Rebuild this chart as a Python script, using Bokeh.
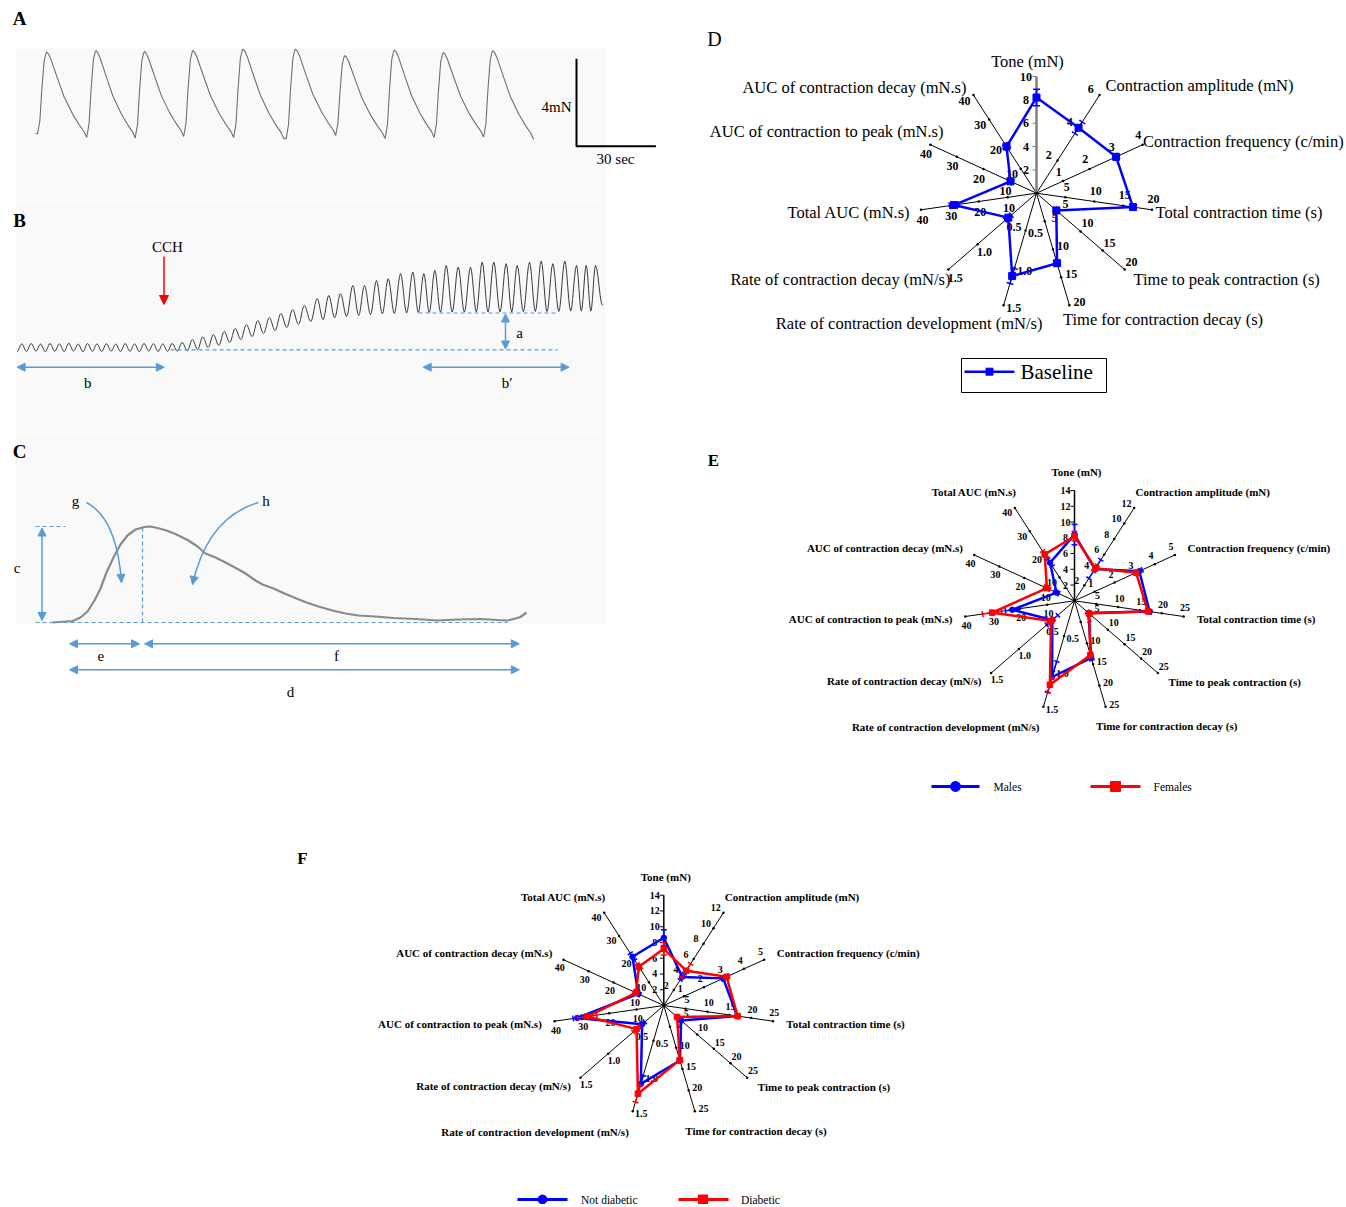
import math
from bokeh.plotting import figure
from bokeh.models import Range1d, Arrow, NormalHead
from bokeh.layouts import column, row
from bokeh.embed import file_html
from bokeh.resources import INLINE
from bokeh.core.properties import value

SERIF = value("Liberation Serif")
ANN = "#5b9bd5"
BG = "#f9f9f9"
BLUE = "#0000ff"
RED = "#ff0000"

# ===================== DATA =====================
# Panel A: spontaneous contractions (time s, force mN)
A_peak_t = [4.27, 22.86, 41.18, 59.50, 78.39, 98.22, 116.9, 135.6, 154.1, 172.8]
A_peak_mN = [3.74, 3.81, 3.77, 3.81, 3.88, 3.88, 3.58, 3.84, 3.72, 3.81]
A_trough_mN = [0.0, -0.17, -0.19, -0.12, -0.17, -0.22, -0.08, -0.22, -0.17, -0.15, -0.26]
A_rise_s = 3.5
A_decay_s = 15.4
A_rise_u = [0.0, 0.25, 0.46, 0.71, 0.9, 1.0]
A_rise_frac = [0.0, 0.16, 0.54, 0.89, 0.98, 1.0]
A_decay_u = [0.0, 0.04, 0.1, 0.27, 0.43, 0.64, 0.81, 0.93, 1.0]
A_decay_frac = [1.0, 0.98, 0.92, 0.69, 0.48, 0.28, 0.15, 0.07, 0.0]

# Panel B: response to carbachol (time s, force mN)
B_peak_t = [6.3, 15.7, 25.1, 34.5, 43.9, 53.3, 62.7, 72.1, 81.5, 90.9, 100.3, 109.7, 119.1, 128.5, 137.9, 147.3, 156.7,
            166.7, 176.9, 187.3, 197.9, 208.7, 219.7, 230.9, 242.3, 253.8, 265.4, 277.1, 288.8,
            301.7, 313.3, 325.0, 337.3, 349.0, 361.0, 372.7, 385.0, 397.3, 408.3, 419.3, 430.7, 442.7,
            455.0, 466.7, 478.3, 490.7, 501.7, 514.0, 525.7, 537.3, 549.3, 561.0, 570.7, 580.0]
B_peak_mN = [0.38, 0.40, 0.37, 0.40, 0.38, 0.41, 0.37, 0.40, 0.38, 0.39, 0.37, 0.40, 0.38, 0.40, 0.39, 0.38, 0.40,
             0.45, 0.60, 0.73, 0.85, 1.00, 1.15, 1.35, 1.55, 1.70, 1.90, 2.10, 2.30,
             2.64, 2.80, 2.89, 3.30, 3.30, 3.55, 3.64, 3.89, 3.97, 3.89, 4.05, 4.30, 4.22,
             4.22, 4.47, 4.47, 4.39, 4.30, 4.47, 4.52, 4.39, 4.52, 4.30, 4.30, 4.30]
B_trough_mN = [0.0,
               0.0, 0.02, -0.01, 0.01, 0.0, 0.02, -0.01, 0.01, 0.0, 0.02, 0.0, 0.01, -0.01, 0.02, 0.0, 0.01, 0.02,
               0.03, 0.10, 0.20, 0.30, 0.45, 0.60, 0.75, 0.90, 1.05, 1.20, 1.35, 1.50,
               1.60, 1.68, 1.75, 1.80, 1.85, 1.88, 1.90, 1.93, 1.95, 1.95, 1.96, 1.97, 1.97,
               1.98, 1.98, 1.98, 1.97, 1.99, 2.00, 2.00, 2.00, 2.02, 2.02, 2.02, 2.30]
B_end_t = 587.0
B_cch_t = 148.5

# Panel C: a single contraction (time s, force mN)
C_t = [0.0, 0.8, 1.12, 1.4, 1.68, 1.92, 2.16, 2.44, 2.72, 3.0, 3.32, 3.68, 3.92, 4.2, 4.56, 4.92,
       5.44, 5.8, 6.12, 6.52, 7.0, 7.44, 7.72, 8.12, 8.4, 8.84, 9.28, 9.76, 10.16, 10.64, 11.2,
       11.72, 12.24, 12.92, 13.64, 14.52, 15.4, 16.24, 17.12, 17.8, 18.2, 18.52, 18.72, 18.96]
C_mN = [0.0, 0.06, 0.2, 0.44, 0.88, 1.36, 2.0, 2.6, 3.12, 3.48, 3.72, 3.82, 3.84, 3.78, 3.68, 3.54,
        3.28, 3.04, 2.76, 2.6, 2.36, 2.12, 1.96, 1.68, 1.52, 1.36, 1.16, 0.96, 0.8, 0.64, 0.48,
        0.36, 0.28, 0.24, 0.18, 0.14, 0.08, 0.12, 0.14, 0.1, 0.08, 0.16, 0.22, 0.4]

# Panel D radar
D_axes = ["Tone (mN)", "Contraction amplitude (mN)", "Contraction frequency (c/min)",
          "Total contraction time (s)", "Time to peak contraction (s)", "Time for contraction decay (s)",
          "Rate of contraction development (mN/s)", "Rate of contraction decay (mN/s)",
          "Total AUC (mN.s)", "AUC of contraction to peak (mN.s)", "AUC of contraction decay (mN.s)"]
D_max = [10, 6, 4, 20, 20, 20, 1.5, 1.5, 40, 40, 40]
D_ticks = [[2, 4, 6, 8, 10], [2, 4, 6], [1, 2, 3, 4], [5, 10, 15, 20], [5, 10, 15, 20], [5, 10, 15, 20],
           [0.5, 1.0, 1.5], [0.5, 1.0, 1.5], [10, 20, 30, 40], [10, 20, 30, 40], [10, 20, 30, 40]]
D_baseline = [8.2, 4.0, 3.0, 16.7, 4.5, 12.5, 1.11, 0.48, 28.6, 9.8, 19.0]
D_baseline_err = [0.7, 0.35, 0.08, 0.4, 0.3, 0.4, 0.1, 0.05, 1.5, 0.8, 1.0]

# Panels E and F radar
EF_axes = ["Tone (mN)", "Contraction amplitude (mN)", "Contraction frequency (c/min)",
           "Total contraction time (s)", "Time to peak contraction (s)", "Time for contraction decay (s)",
           "Rate of contraction development (mN/s)", "Rate of contraction decay (mN/s)",
           "AUC of contraction to peak (mN.s)", "AUC of contraction decay (mN.s)", "Total AUC (mN.s)"]
EF_max = [14, 12, 5, 25, 25, 25, 1.5, 1.5, 40, 40, 40]
EF_ticks = [[2, 4, 6, 8, 10, 12, 14], [2, 4, 6, 8, 10, 12], [1, 2, 3, 4, 5], [5, 10, 15, 20, 25],
            [5, 10, 15, 20, 25], [5, 10, 15, 20, 25], [0.5, 1.0, 1.5], [0.5, 1.0, 1.5],
            [10, 20, 30, 40], [10, 20, 30, 40], [10, 20, 30, 40]]
E_males = [8.4, 4.1, 3.23, 17.2, 4.2, 13.5, 1.08, 0.40, 22.8, 7.2, 16.4]
E_males_err = [1.3, 1.2, 0.15, 0.4, 0.3, 0.5, 0.22, 0.1, 2.5, 1.0, 1.5]
E_females = [8.2, 4.2, 3.07, 16.8, 4.4, 12.8, 1.19, 0.42, 30.2, 11.0, 20.0]
E_females_err = [0.6, 0.4, 0.1, 0.4, 0.4, 0.5, 0.1, 0.05, 3.5, 1.2, 1.5]
F_notdiab = [8.6, 3.7, 2.96, 16.8, 5.2, 13.0, 1.11, 0.39, 31.7, 10.2, 21.0]
F_notdiab_err = [1.0, 0.4, 0.1, 0.3, 0.3, 0.4, 0.12, 0.05, 1.5, 0.8, 1.5]
F_diab = [7.2, 4.5, 3.13, 16.9, 4.0, 12.9, 1.25, 0.49, 28.1, 11.1, 16.7]
F_diab_err = [0.8, 0.9, 0.12, 0.4, 0.4, 0.4, 0.12, 0.06, 3.5, 1.0, 1.2]


# ===================== HELPERS =====================
def blank(w, h, xr, yr):
    p = figure(width=w, height=h, x_range=Range1d(*xr), y_range=Range1d(*yr),
               output_backend="svg", toolbar_location=None,
               x_axis_location=None, y_axis_location=None,
               min_border=0, outline_line_color=None,
               background_fill_color="white", border_fill_color="white")
    p.xgrid.visible = False
    p.ygrid.visible = False
    return p


def txt(p, x, y, s, size, align="center", bold=False, color="black"):
    p.text(x=[x], y=[y], text=[s], text_font=SERIF, text_font_size=f"{size}px",
           text_align=align, text_baseline="middle", text_color=color,
           text_font_style="bold" if bold else "normal")


def head(color, size=8):
    return NormalHead(size=size, fill_color=color, line_color=color, line_width=1)


def darrow(p, x0, y0, x1, y1, color=ANN, size=8, both=True, lw=1.5):
    p.add_layout(Arrow(start=head(color, size) if both else None, end=head(color, size),
                       x_start=x0, y_start=y0, x_end=x1, y_end=y1,
                       line_color=color, line_width=lw))


LEFT_W, RIGHT_W = 690, 656

# ===================== PANEL A =====================
def a_t(x):
    return (x - 35.0) / 2.647


def a_f(y):
    return (133.3 - y) / 21.85


pA = blank(LEFT_W, 200, (a_t(0), a_t(LEFT_W)), (a_f(200), a_f(0)))
pA.quad(left=[a_t(15)], right=[a_t(605)], bottom=[a_f(200)], top=[a_f(48.3)],
        fill_color=BG, line_color=None)
tA, fA = [0.0], [A_trough_mN[0]]
for i, (tp, fp) in enumerate(zip(A_peak_t, A_peak_mN)):
    lo0, lo1 = A_trough_mN[i], A_trough_mN[i + 1]
    ts = tp - A_rise_s
    for u, fr in zip(A_rise_u, A_rise_frac):
        tA.append(ts + u * A_rise_s)
        fA.append(lo0 + fr * (fp - lo0))
    if i + 1 < len(A_peak_t):
        td = min(A_decay_s, A_peak_t[i + 1] - A_rise_s - tp)
    else:
        td = A_decay_s
    for u, fr in zip(A_decay_u[1:], A_decay_frac[1:]):
        tA.append(tp + u * td)
        fA.append(lo1 + fr * (fp - lo1))
pA.line(tA, fA, line_color="#707070", line_width=1.1)
# scale bar 4 mN / 30 s
sb_t, sb_f = a_t(576), a_f(145.7)
pA.line([sb_t, sb_t, sb_t + 30], [sb_f + 4, sb_f, sb_f], line_color="black", line_width=2)
txt(pA, a_t(571), a_f(106), "4mN", 15, align="right")
txt(pA, a_t(615), a_f(158), "30 sec", 15)
txt(pA, a_t(19), a_f(18), "A", 19, bold=True)

# ===================== PANEL B =====================
def b_t(x):
    return x - 15.0


def b_f(y):
    return (351.0 - y) / 20.0


pB = blank(LEFT_W, 232, (b_t(0), b_t(LEFT_W)), (b_f(432), b_f(200)))
pB.quad(left=[b_t(15)], right=[b_t(605)], bottom=[b_f(432)], top=[b_f(200)],
        fill_color=BG, line_color=None)
ext_t = [B_peak_t[0] - (B_peak_t[1] - B_peak_t[0]) / 2]
ext_f = [B_trough_mN[0]]
for i, tp in enumerate(B_peak_t):
    ext_t.append(tp)
    ext_f.append(B_peak_mN[i])
    tn = (tp + B_peak_t[i + 1]) / 2 if i + 1 < len(B_peak_t) else B_end_t
    ext_t.append(tn)
    ext_f.append(B_trough_mN[i + 1])
tB, fB = [], []
NS = 6
for j in range(len(ext_t) - 1):
    for s in range(NS):
        u = s / NS
        w = (1 - math.cos(math.pi * u)) / 2
        tB.append(ext_t[j] + (ext_t[j + 1] - ext_t[j]) * u)
        fB.append(ext_f[j] + (ext_f[j + 1] - ext_f[j]) * w)
tB.append(ext_t[-1])
fB.append(ext_f[-1])
pB.line(tB, fB, line_color="#3c3c3c", line_width=1.0)
# dashed reference lines
pB.line([b_t(170), b_t(557)], [b_f(349.3)] * 2, line_color=ANN, line_width=1.2, line_dash="4 3")
pB.line([b_t(418), b_t(557)], [b_f(312.5)] * 2, line_color=ANN, line_width=1.2, line_dash="4 3")
darrow(pB, b_t(505), b_f(313.5), b_t(505), b_f(348.5))
darrow(pB, b_t(16.6), b_f(366.7), b_t(163.8), b_f(366.7))
darrow(pB, b_t(422.7), b_f(366.7), b_t(568.6), b_f(366.7))
pB.add_layout(Arrow(end=head(RED, 9), x_start=B_cch_t, y_start=b_f(256), x_end=B_cch_t, y_end=b_f(304),
                    line_color=RED, line_width=1.5))
txt(pB, b_t(167), b_f(246), "CCH", 15)
txt(pB, b_t(519), b_f(332), "a", 15)
txt(pB, b_t(87.3), b_f(382), "b", 15)
txt(pB, b_t(506.6), b_f(382), "b\u2032", 15)
txt(pB, b_t(19), b_f(220), "B", 19, bold=True)

# ===================== PANEL C =====================
def c_t(x):
    return (x - 52.0) * 0.04


def c_f(y):
    return (622.0 - y) * 0.04


pC = blank(LEFT_W, 280, (c_t(0), c_t(LEFT_W)), (c_f(712), c_f(432)))
pC.quad(left=[c_t(15)], right=[c_t(605)], bottom=[c_f(623.3)], top=[c_f(432)],
        fill_color=BG, line_color=None)
pC.line(C_t, C_mN, line_color="#8a8a8a", line_width=2.2)
pC.line([c_t(35), c_t(65)], [c_f(526)] * 2, line_color=ANN, line_width=1.2, line_dash="4 3")
pC.line([c_t(142)] * 2, [c_f(622), c_f(526)], line_color=ANN, line_width=1.2, line_dash="4 3")
pC.line([c_t(35), c_t(507)], [c_f(622)] * 2, line_color=ANN, line_width=1.2, line_dash="4 3")
darrow(pC, c_t(41.5), c_f(620), c_t(41.5), c_f(527.5))
darrow(pC, c_t(69), c_f(643.3), c_t(139), c_f(643.3))
darrow(pC, c_t(144), c_f(643.3), c_t(518.8), c_f(643.3))
darrow(pC, c_t(69), c_f(669.3), c_t(518.8), c_f(669.3))
for (sx, sy), (qx, qy), (ex, ey) in [((86, 502), (116.5, 518), (121, 582)),
                                     ((258, 502), (207, 517), (192, 584))]:
    pC.quadratic(x0=[c_t(sx)], y0=[c_f(sy)], x1=[c_t(ex)], y1=[c_f(ey)],
                 cx=[c_t(qx)], cy=[c_f(qy)], line_color=ANN, line_width=1.5)
    vx, vy = ex - qx, ey - qy
    L = math.hypot(vx, vy)
    px0, py0 = ex - 4 * vx / L, ey - 4 * vy / L
    pC.add_layout(Arrow(end=head(ANN, 8), x_start=c_t(px0), y_start=c_f(py0),
                        x_end=c_t(ex), y_end=c_f(ey), line_color=ANN, line_width=1.5))
txt(pC, c_t(16.6), c_f(567), "c", 15)
txt(pC, c_t(75), c_f(500), "g", 15)
txt(pC, c_t(265.5), c_f(500), "h", 15)
txt(pC, c_t(100.4), c_f(655), "e", 15)
txt(pC, c_t(336), c_f(655), "f", 15)
txt(pC, c_t(290), c_f(691), "d", 15)
txt(pC, c_t(19), c_f(451), "C", 19, bold=True)


# ===================== RADAR =====================
def radar(p, R, names, maxes, ticks, title_pos, title_fs, title_bold, tick_fs, tick_off,
          tone_color, tone_w, series, cap):
    n = len(names)
    th = [2 * math.pi * k / n for k in range(n)]
    ux = [math.sin(a) for a in th]
    uy = [math.cos(a) for a in th]
    nx = [-math.cos(a) for a in th]
    ny = [math.sin(a) for a in th]
    p.segment(x0=[0] * (n - 1), y0=[0] * (n - 1), x1=ux[1:], y1=uy[1:],
              line_color="black", line_width=1)
    p.segment(x0=[0], y0=[0], x1=[0], y1=[1], line_color=tone_color, line_width=tone_w)
    tx0, ty0, tx1, ty1 = [], [], [], []
    dxs, dys = [], []
    lxs, lys, lts = [], [], []
    for k in range(n):
        for t in ticks[k]:
            r = t / maxes[k]
            if k == 0:
                tx0.append(-4.0 / R); ty0.append(r); tx1.append(0); ty1.append(r)
            else:
                dxs.append(r * ux[k]); dys.append(r * uy[k])
            lxs.append(r * ux[k] + tick_off / R * nx[k])
            lys.append(r * uy[k] + tick_off / R * ny[k])
            lts.append(f"{t:.1f}" if maxes[k] < 2 else str(int(t)))
    p.segment(x0=tx0, y0=ty0, x1=tx1, y1=ty1, line_color=tone_color, line_width=1)
    p.scatter(dxs, dys, marker="circle", size=2.5, fill_color="black", line_color=None)
    p.scatter([0], [0], marker="circle", size=3, fill_color="black", line_color=None)
    p.text(x=lxs, y=lys, text=lts, text_font=SERIF, text_font_size=f"{tick_fs}px",
           text_font_style="bold", text_align="center", text_baseline="middle")
    for k in range(n):
        dx, dy, al = title_pos[k]
        p.text(x=[dx / R], y=[-dy / R], text=[names[k]], text_font=SERIF,
               text_font_size=f"{title_fs}px", text_font_style="bold" if title_bold else "normal",
               text_align=al, text_baseline="middle")
    for vals, errs, color, marker, msize, lw in series:
        rs = [v / m for v, m in zip(vals, maxes)]
        xs = [r * a for r, a in zip(rs, ux)]
        ys = [r * b for r, b in zip(rs, uy)]
        ex0, ey0, ex1, ey1 = [], [], [], []
        for k in range(n):
            lo = max(vals[k] - errs[k], 0) / maxes[k]
            hi = (vals[k] + errs[k]) / maxes[k]
            ex0.append(lo * ux[k]); ey0.append(lo * uy[k]); ex1.append(hi * ux[k]); ey1.append(hi * uy[k])
            for rr in (lo, hi):
                cxp, cyp = rr * ux[k], rr * uy[k]
                h = cap / 2 / R
                ex0.append(cxp - h * nx[k]); ey0.append(cyp - h * ny[k])
                ex1.append(cxp + h * nx[k]); ey1.append(cyp + h * ny[k])
        p.segment(x0=ex0, y0=ey0, x1=ex1, y1=ey1, line_color=color, line_width=1.5)
        p.line(xs + xs[:1], ys + ys[:1], line_color=color, line_width=lw)
        p.scatter(xs, ys, marker=marker, size=msize, fill_color=color, line_color=color)


def radar_fig(w, h, cx, cy, R):
    return blank(w, h, (-cx / R, (w - cx) / R), (-(h - cy) / R, cy / R))


def legend_item(p, R, x0, x1, xm, y, xt, color, marker, msize, lw, label, fs):
    p.line([x0 / R, x1 / R], [-y / R] * 2, line_color=color, line_width=lw)
    p.scatter([xm / R], [-y / R], marker=marker, size=msize, fill_color=color, line_color=color)
    p.text(x=[xt / R], y=[-y / R], text=[label], text_font=SERIF, text_font_size=f"{fs}px",
           text_align="left", text_baseline="middle")


D_title = [(-9, -131.7, "center"), (69, -107.7, "left"), (106.5, -51.7, "left"), (119, 19, "left"),
           (97, 86, "left"), (26.5, 126.3, "left"), (6, 130.6, "right"), (-86, 86.6, "right"),
           (-126, 19, "right"), (-93, -61.7, "right"), (-70, -105.7, "right")]
EF_title = [(2, -129, "center"), (61, -108.5, "left"), (113, -52.5, "left"), (122.5, 18.5, "left"),
            (94, 81, "left"), (21.5, 125.5, "left"), (-35, 126.5, "right"), (-93, 80.5, "right"),
            (-122, 18.5, "right"), (-111.5, -52.5, "right"), (-58, -108.5, "right")]

# ---- D ----
RD = 116.7
pD = radar_fig(RIGHT_W, 412, 346, 192.7, RD)
radar(pD, RD, D_axes, D_max, D_ticks, D_title, 16.5, False, 12, 10.5, "#808080", 2.5,
      [(D_baseline, D_baseline_err, BLUE, "square", 7, 2.5)], 7)
pD.quad(left=[-75 / RD], right=[70 / RD], bottom=[-199.3 / RD], top=[-165.3 / RD],
        fill_alpha=0, line_color="black", line_width=1)
legend_item(pD, RD, -72, -22, -47, 178.5, -16, BLUE, "square", 7, 2.5, "Baseline", 21)
txt(pD, -322 / RD, 154.7 / RD, "D", 20)

# ---- E ----
RE = 110.3
pE = radar_fig(RIGHT_W, 400, 384, 188.3, RE)
radar(pE, RE, EF_axes, EF_max, EF_ticks, EF_title, 11, True, 10, 9, "black", 1.5,
      [(E_males, E_males_err, BLUE, "circle", 5.5, 2.5),
       (E_females, E_females_err, RED, "square", 5.5, 2.5)], 6)
legend_item(pE, RE, -143, -95, -119, 185.7, -81, BLUE, "circle", 10, 3, "Males", 11.5)
legend_item(pE, RE, 16, 66, 41, 185.7, 79, RED, "square", 10, 3, "Females", 11.5)
txt(pE, -361 / RE, 140.3 / RE, "E", 17, bold=True)

# ---- F ----
RF = 110.3
pF = radar_fig(LEFT_W + RIGHT_W, 392, 663.3, 193, RF)
radar(pF, RF, EF_axes, EF_max, EF_ticks, EF_title, 11, True, 10, 9, "black", 1.5,
      [(F_notdiab, F_notdiab_err, BLUE, "circle", 5.5, 2.5),
       (F_diab, F_diab_err, RED, "square", 5.5, 2.5)], 6)
legend_item(pF, RF, -146.3, -96.3, -121.3, 194, -82.8, BLUE, "circle", 9, 3, "Not diabetic", 11.5)
legend_item(pF, RF, 14.7, 64.7, 39.2, 194, 77.2, RED, "square", 9, 3, "Diabetic", 11.5)
txt(pF, -361.3 / RF, 147 / RF, "F", 17, bold=True)

page = column(row(column(pA, pB, pC), column(pD, pE)), pF)
open("out.html", "w").write(file_html(page, INLINE))
